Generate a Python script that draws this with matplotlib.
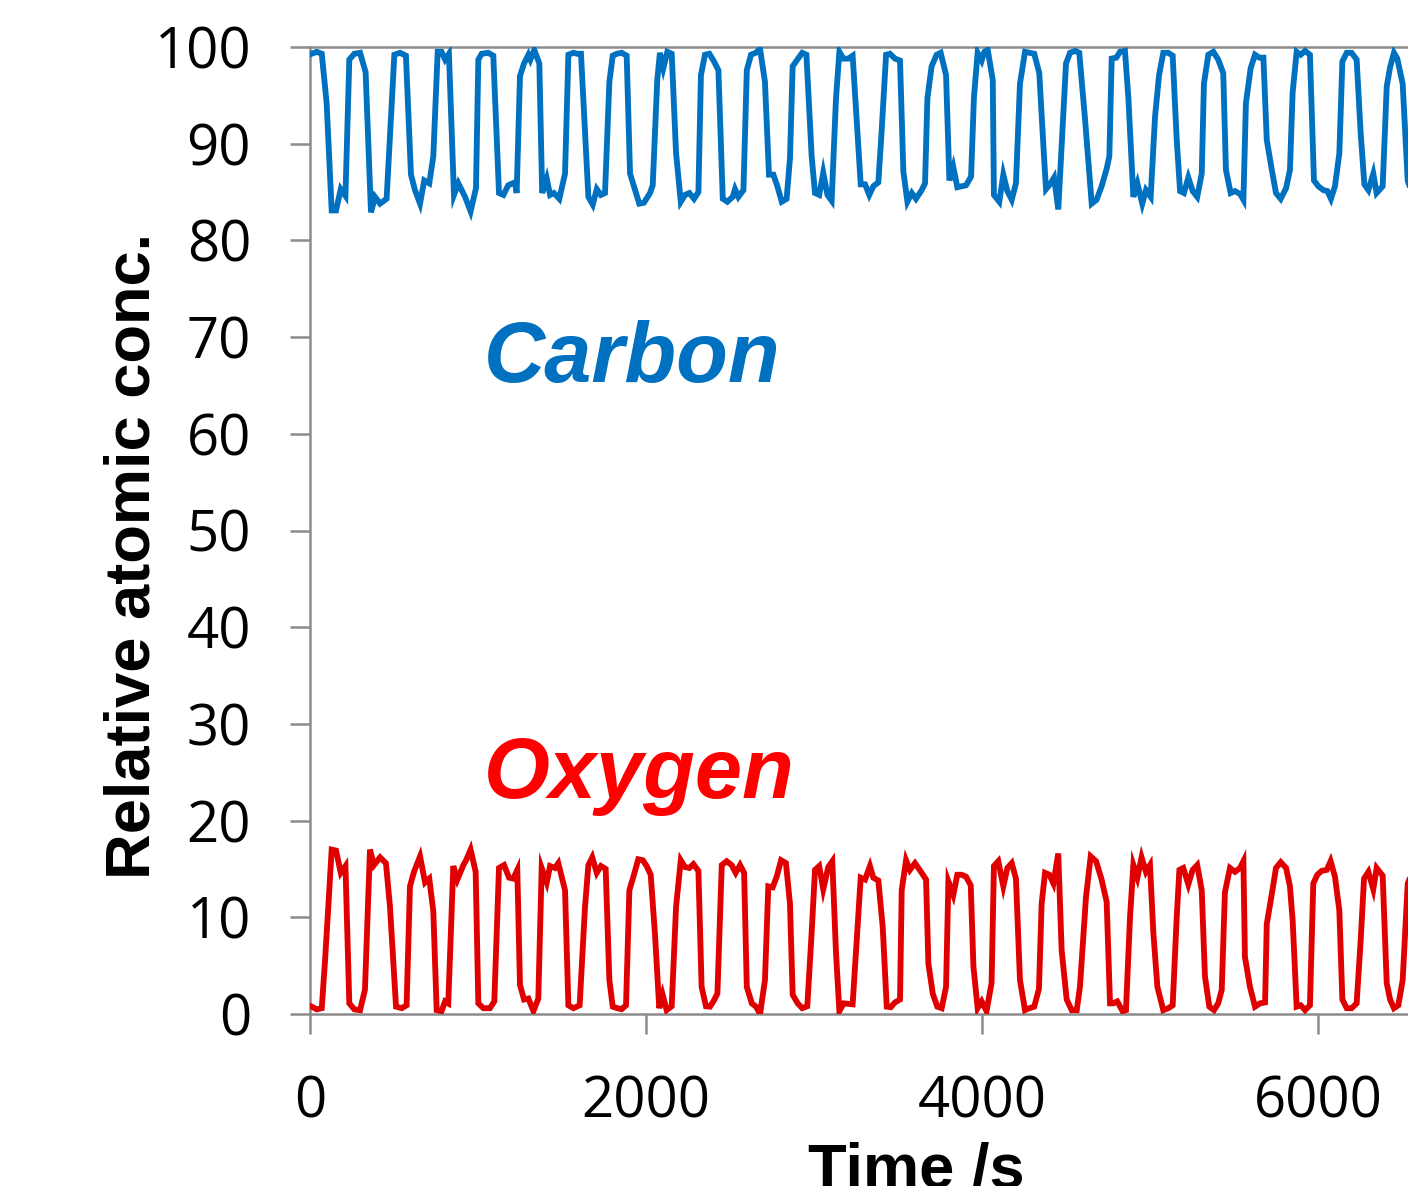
import matplotlib
matplotlib.use("Agg")
import matplotlib.pyplot as plt
import numpy as np

# ---------------- data ----------------
carbon_t = [10, 40, 70, 99, 129, 155, 183, 211, 234, 264, 298, 331, 363, 387, 417, 456,
            502, 536, 571, 601, 625, 655, 680, 710, 734, 760, 783, 804, 827, 857, 883, 923,
            956, 988, 1002, 1022, 1061, 1091, 1125, 1151, 1180, 1220, 1230, 1250, 1274, 1300,
            1312, 1335, 1365, 1382, 1409, 1429, 1452, 1484, 1518, 1538, 1568, 1590, 1613, 1657,
            1683, 1707, 1731, 1756, 1782, 1802, 1826, 1855, 1885, 1905, 1935, 1960, 1988, 2024,
            2040, 2067, 2083, 2103, 2127, 2153, 2179, 2207, 2232, 2258, 2286, 2312, 2327, 2351,
            2377, 2405, 2431, 2457, 2484, 2516, 2530, 2550, 2580, 2600, 2625, 2653, 2679, 2708,
            2732, 2758, 2782, 2808, 2837, 2857, 2873, 2901, 2930, 2955, 2986, 3006, 3031, 3055,
            3080, 3105, 3131, 3151, 3175, 3205, 3230, 3258, 3278, 3304, 3329, 3353, 3383, 3403,
            3429, 3452, 3482, 3512, 3532, 3556, 3582, 3607, 3641, 3661, 3675, 3700, 3730, 3754,
            3786, 3806, 3829, 3853, 3879, 3905, 3935, 3952, 3974, 3998, 4014, 4034, 4064, 4071,
            4103, 4127, 4151, 4177, 4202, 4226, 4256, 4282, 4311, 4341, 4369, 4381, 4405, 4429,
            4454, 4500, 4524, 4554, 4579, 4613, 4653, 4682, 4712, 4742, 4758, 4772, 4800, 4821,
            4851, 4871, 4901, 4925, 4954, 4976, 5004, 5030, 5054, 5079, 5109, 5135, 5159, 5179,
            5202, 5228, 5254, 5281, 5308, 5321, 5347, 5377, 5406, 5436, 5452, 5480, 5506, 5536,
            5556, 5571, 5599, 5625, 5651, 5675, 5695, 5725, 5750, 5778, 5810, 5833, 5849, 5873,
            5897, 5923, 5952, 5976, 6002, 6032, 6056, 6077, 6101, 6127, 6145, 6171, 6200, 6230,
            6254, 6276, 6300, 6329, 6349, 6385, 6409, 6429, 6452, 6472, 6504, 6534, 6560, 6600]
carbon_v = [99.3, 99.5, 99.3, 94.2, 83.1, 83.1, 85.3, 84.6, 98.7, 99.3, 99.4, 97.4, 82.9, 84.5, 83.8, 84.3,
            99.2, 99.4, 99.1, 86.8, 85.2, 83.8, 86.2, 85.9, 88.7, 99.5, 99.5, 98.7, 99.3, 84.7, 85.9, 84.5,
            83.0, 85.4, 98.7, 99.3, 99.4, 99.1, 84.9, 84.7, 85.7, 86.0, 84.9, 97.0, 98.3, 99.2,
            98.7, 99.7, 98.3, 84.9, 86.4, 84.7, 84.9, 84.3, 86.9, 99.2, 99.4, 99.3, 99.3, 84.5,
            83.7, 85.3, 84.7, 84.9, 96.4, 99.1, 99.3, 99.4, 99.1, 86.9, 85.2, 83.8, 83.9, 84.9,
            85.7, 96.6, 99.4, 97.8, 99.5, 99.3, 89.0, 84.0, 84.7, 84.9, 84.3, 85.0, 97.1, 99.2,
            99.3, 98.5, 97.6, 84.3, 84.0, 84.5, 85.3, 84.5, 85.2, 97.6, 99.2, 99.4, 99.8, 96.4,
            86.8, 86.8, 85.6, 84.0, 84.3, 88.5, 98.0, 98.7, 99.4, 99.2, 88.7, 84.9, 84.7, 87.0,
            84.7, 84.1, 94.7, 99.5, 98.8, 98.8, 99.1, 91.4, 85.8, 85.8, 84.7, 85.6, 86.0, 91.4,
            99.2, 99.3, 98.8, 98.6, 87.1, 84.0, 84.9, 84.3, 85.2, 85.9, 94.7, 98.0, 99.2, 99.4,
            97.1, 86.2, 87.6, 85.5, 85.6, 85.7, 86.6, 94.8, 99.4, 98.6, 99.5, 99.7, 96.6, 84.7,
            84.0, 86.8, 85.1, 84.2, 85.9, 96.2, 99.5, 99.4, 99.3, 97.3, 88.7, 85.3, 85.8, 86.5,
            83.2, 98.3, 99.4, 99.6, 99.4, 92.6, 83.8, 84.2, 85.6, 87.4, 88.7, 98.8, 98.9, 99.5,
            99.6, 94.8, 84.5, 85.9, 83.8, 85.2, 84.5, 92.8, 97.1, 99.4, 99.4, 99.1, 90.4, 85.1,
            84.9, 86.5, 85.1, 84.5, 86.9, 96.2, 99.2, 99.5, 98.7, 97.3, 87.3, 84.9, 85.1, 84.8,
            84.2, 94.2, 97.8, 99.2, 98.9, 98.9, 90.4, 87.3, 84.9, 84.3, 85.4, 87.3, 95.3, 99.5,
            99.2, 99.6, 99.2, 86.2, 85.6, 85.2, 85.1, 84.3, 85.6, 89.0, 98.5, 99.4, 99.4, 98.7,
            91.1, 85.8, 85.2, 86.9, 84.9, 85.6, 95.9, 97.9, 99.4, 98.8, 96.2, 86.2, 84.8, 85.0]

oxygen_t = [10, 40, 70, 89, 109, 129, 155, 183, 211, 234, 264, 298, 327, 357, 381, 417,
            452, 476, 512, 546, 575, 595, 619, 655, 685, 710, 734, 754, 783, 804, 823, 853,
            877, 913, 929, 956, 986, 1002, 1032, 1071, 1097, 1125, 1155, 1185, 1210, 1234, 1250,
            1274, 1300, 1330, 1359, 1379, 1409, 1429, 1458, 1478, 1518, 1538, 1568, 1605, 1637,
            1657, 1680, 1707, 1732, 1760, 1782, 1802, 1829, 1855, 1881, 1901, 1925, 1954, 1981,
            2004, 2028, 2054, 2079, 2099, 2123, 2153, 2179, 2207, 2232, 2258, 2282, 2312, 2331,
            2357, 2381, 2401, 2425, 2451, 2480, 2510, 2534, 2560, 2584, 2600, 2630, 2655, 2679,
            2708, 2728, 2754, 2778, 2804, 2833, 2857, 2873, 2903, 2930, 2960, 2986, 3006, 3031,
            3055, 3085, 3109, 3131, 3151, 3177, 3230, 3254, 3278, 3304, 3333, 3353, 3383, 3409,
            3433, 3457, 3482, 3512, 3522, 3548, 3571, 3601, 3641, 3667, 3681, 3707, 3734, 3760,
            3786, 3800, 3829, 3853, 3879, 3905, 3933, 3949, 3974, 3998, 4027, 4057, 4071, 4097,
            4127, 4151, 4177, 4202, 4226, 4256, 4282, 4311, 4339, 4355, 4375, 4401, 4425, 4454,
            4474, 4504, 4534, 4564, 4583, 4619, 4647, 4679, 4712, 4742, 4762, 4782, 4805, 4837,
            4857, 4881, 4901, 4925, 4950, 4976, 5000, 5020, 5044, 5079, 5109, 5135, 5159, 5175,
            5198, 5228, 5254, 5281, 5308, 5327, 5353, 5381, 5406, 5427, 5446, 5476, 5506, 5536,
            5556, 5565, 5595, 5625, 5655, 5685, 5695, 5725, 5750, 5778, 5810, 5833, 5849, 5873,
            5897, 5923, 5952, 5972, 5996, 6022, 6052, 6075, 6101, 6127, 6145, 6171, 6200, 6230,
            6254, 6274, 6300, 6329, 6349, 6385, 6409, 6429, 6452, 6478, 6504, 6534, 6570]
oxygen_v = [0.76, 0.48, 0.6, 5.4, 11.1, 17.0, 16.9, 14.6, 15.3, 1.1, 0.48, 0.4, 2.5, 17.0, 15.4, 16.2,
            15.6, 11.1, 0.76, 0.6, 0.9, 13.2, 14.7, 16.3, 13.6, 14.0, 10.6, 0.4, 0.3, 1.3, 1.1, 15.3,
            13.9, 15.4, 15.9, 17.0, 14.7, 1.1, 0.6, 0.6, 1.3, 15.1, 15.4, 14.1, 14.0, 14.9, 3.0,
            1.5, 1.6, 0.3, 1.6, 15.1, 13.6, 15.3, 15.1, 15.6, 12.8, 0.9, 0.6, 0.9, 11.1,
            15.4, 16.2, 14.6, 15.3, 15.0, 3.5, 0.76, 0.6, 0.5, 0.9, 12.8, 14.2, 16.0, 15.9,
            15.3, 14.4, 8.1, 0.6, 2.0, 0.4, 0.8, 11.1, 15.9, 15.2, 15.1, 15.5, 14.8, 2.8,
            0.8, 0.76, 1.3, 2.1, 15.4, 15.8, 15.4, 14.6, 15.4, 14.6, 2.8, 1.1, 0.76, 0.0,
            3.5, 13.2, 13.1, 14.2, 15.9, 15.6, 11.4, 2.0, 1.1, 0.6, 0.8, 8.4, 14.9, 15.3,
            12.9, 15.2, 15.8, 6.3, 0.3, 1.1, 1.0, 7.6, 14.1, 13.9, 15.3, 14.1, 13.8, 9.0,
            0.76, 0.7, 1.2, 1.5, 12.8, 15.9, 14.9, 15.6, 14.6, 13.9, 5.2, 2.1, 0.76, 0.6,
            2.8, 13.7, 12.3, 14.4, 14.4, 14.2, 13.3, 4.9, 0.6, 1.3, 0.3, 3.2, 15.3, 15.8,
            13.2, 15.1, 15.6, 14.0, 3.5, 0.4, 0.6, 0.76, 2.6, 11.4, 14.6, 14.4, 13.5, 16.6,
            6.6, 1.5, 0.4, 0.4, 2.8, 12.1, 16.3, 15.8, 13.9, 11.6, 1.1, 1.1, 1.3, 0.3,
            0.4, 10.0, 15.4, 14.1, 16.2, 14.7, 15.4, 8.4, 2.8, 0.4, 0.6, 0.9, 10.0, 14.9,
            15.1, 13.4, 14.9, 15.4, 12.8, 3.9, 0.76, 0.4, 1.1, 2.5, 12.6, 15.1, 14.7, 15.1,
            15.8, 5.9, 2.8, 0.76, 1.1, 1.2, 9.3, 12.4, 15.1, 15.7, 15.1, 13.2, 9.7, 0.76,
            0.9, 0.4, 0.9, 13.5, 14.4, 14.8, 14.9, 15.8, 14.2, 10.7, 1.5, 0.6, 0.6, 1.1,
            7.6, 14.0, 14.7, 12.9, 15.1, 14.3, 3.2, 1.5, 0.6, 0.9, 3.5, 13.5, 15.0]

x_ticks = [0, 2000, 4000, 6000]
y_ticks = [0, 10, 20, 30, 40, 50, 60, 70, 80, 90, 100]
x_label = "Time /s"
y_label = "Relative atomic conc."
series_names = ["Carbon", "Oxygen"]

# ---------------- figure ----------------
W, H = 1408, 1186
fig = plt.figure(figsize=(W / 100, H / 100), dpi=100)
fig.patch.set_facecolor("white")

ax_left, ax_top, ax_bottom = 310, 47, 1014
ax_w = 1176  # 7000 s at 0.168 px/s (extends beyond the right edge)
ax = fig.add_axes([ax_left / W, (H - ax_bottom) / H, ax_w / W, (ax_bottom - ax_top) / H])

carbon_col = "#0070C0"
oxygen_col = "#E00000"

ax.plot(carbon_t, carbon_v, color=carbon_col, lw=4.2, solid_joinstyle="miter", zorder=3)
ax.plot(oxygen_t, oxygen_v, color=oxygen_col, lw=4.2, solid_joinstyle="miter", zorder=3)

ax.set_xlim(0, 7000)
ax.set_ylim(0, 100)

spine_col = "#8C8C8C"
for side in ["left", "bottom", "top"]:
    ax.spines[side].set_color(spine_col)
    ax.spines[side].set_linewidth(1.8)
ax.spines["right"].set_visible(False)

ax.set_xticks(x_ticks)
ax.set_yticks(y_ticks)
ax.set_xticklabels([str(v) for v in x_ticks])
ax.set_yticklabels([str(v) for v in y_ticks])
ax.tick_params(axis="both", direction="out", length=14.4, width=1.8, color=spine_col,
               labelcolor="black", labelsize=40.5)
ax.tick_params(axis="y", pad=28)
ax.tick_params(axis="x", pad=29)
for lab in ax.get_xticklabels() + ax.get_yticklabels():
    lab.set_fontfamily("Open Sans")

# axis titles
fig.text(133 / W, 1 - 556 / H, y_label, rotation=90, ha="center", va="center",
         fontsize=45.5, fontweight="bold", family="Liberation Sans")
fig.text(916 / W, 1 - 1188 / H, x_label, ha="center", va="baseline",
         fontsize=45.5, fontweight="bold", family="Liberation Sans")

# series annotations
fig.text(484 / W, 1 - 382 / H, series_names[0], ha="left", va="baseline", color=carbon_col,
         fontsize=61, fontweight="bold", fontstyle="italic", family="Liberation Sans")
fig.text(484 / W, 1 - 798 / H, series_names[1], ha="left", va="baseline", color="#FF0000",
         fontsize=61, fontweight="bold", fontstyle="italic", family="Liberation Sans")

fig.savefig("out.png", dpi=100)
